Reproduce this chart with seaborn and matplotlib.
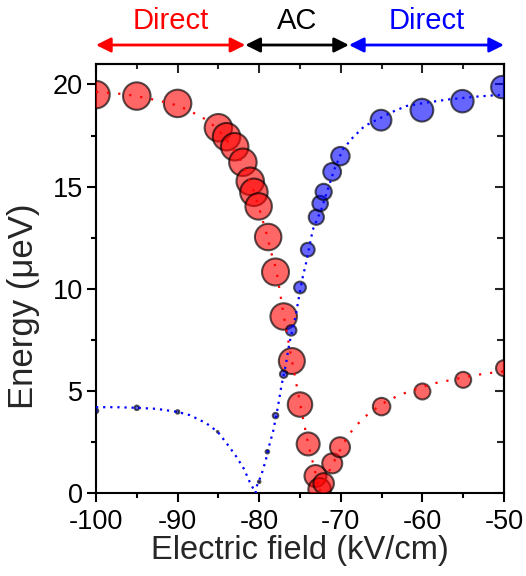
import matplotlib
matplotlib.use("Agg")
import matplotlib.pyplot as plt
from matplotlib.ticker import MultipleLocator
import seaborn as sns
import pandas as pd

# ---------------- data ----------------
red_field = [-100, -95, -90, -85, -84, -83, -82, -81.1, -80.65, -80.07, -78.9, -78, -77, -76, -75,
             -74, -73.1, -72.6, -72.1, -71.05, -70.1, -65, -60, -55, -50]
red_energy = [19.5, 19.43, 19.07, 17.88, 17.44, 16.95, 16.19, 15.26, 14.72, 14.03, 12.53, 10.82, 8.64,
              6.46, 4.33, 2.40, 0.83, 0.18, 0.47, 1.45, 2.24, 4.23, 4.97, 5.54, 6.11]
red_diam = [29, 29, 29, 29, 29, 29, 29, 29, 29, 28, 28, 28.5, 28, 27.5, 26, 24.5, 23.5, 24, 22,
            21.5, 21.5, 19, 17.5, 17.5, 17.5]

blue_field = [-100, -95, -90, -85.1, -80.0, -79.0, -78.0, -77.0, -76.08, -75.0, -74.05, -73.0,
              -72.53, -72.1, -71.06, -70.05, -65.07, -60.06, -55.1, -50.2]
blue_energy = [4.02, 4.17, 3.97, 3.0, 0.55, 2.02, 3.79, 5.82, 7.96, 10.06, 11.91, 13.5, 14.17,
               14.74, 15.72, 16.49, 18.25, 18.74, 19.18, 19.87]
blue_diam = [6, 6, 5, 3, 4, 5, 7, 9, 12, 13.3, 15.3, 16.7, 17, 17.7, 19.3, 20, 22.3, 24.3, 24, 24]

red_fit_field = [-100, -97.07, -95.5, -94.1, -92.6, -91.2, -89.8, -88.3, -86.9, -85.5, -84.4, -83.3,
                 -82.2, -80.9, -79.95, -79.13, -78.4, -77.9, -77, -76, -75, -74, -73.56, -73.2,
                 -72.65, -72.0, -71.06, -69.56, -68.55, -67.2, -65, -64.26, -62.8, -61.4, -59.9,
                 -58.4, -57.0, -55.5, -54.1, -52.7, -51.2, -50]
red_fit_energy = [19.64, 19.54, 19.46, 19.35, 19.23, 19.1, 18.94, 18.66, 18.37, 17.96, 17.5, 16.9,
                  16.24, 15.05, 13.87, 12.73, 11.58, 10.93, 8.7, 6.5, 4.4, 2.4, 1.7, 1.16, 0.05,
                  0.6, 1.37, 2.51, 3.1, 3.69, 4.35, 4.51, 4.8, 5.0, 5.21, 5.38, 5.49, 5.62, 5.73,
                  5.82, 5.9, 5.95]

blue_fit_field = [-100, -97.5, -95, -92.6, -90, -88.5, -86.5, -85.1, -84.0, -82.8, -81.9, -81.17,
                  -80.45, -80.36, -79.74, -79.2, -78.7, -78.3, -77.7, -77.3, -76.7, -76.3, -75.55,
                  -75.15, -74.65, -74.3, -73.43, -72.4, -71.6, -70.8, -69.77, -68.55, -67.1,
                  -63.65, -62.0, -59.2, -56.7, -53.5, -50]
blue_fit_energy = [4.2, 4.2, 4.17, 4.12, 3.97, 3.81, 3.42, 3.0, 2.44, 1.78, 1.2, 0.55, 0.0, 0.28,
                   0.88, 1.6, 2.44, 3.0, 4.23, 5.2, 6.36, 7.34, 8.64, 9.54, 10.6, 11.18, 12.89,
                   13.87, 14.85, 15.83, 16.81, 17.39, 17.96, 18.66, 18.94, 19.13, 19.27, 19.4, 19.5]

region_labels = ["Direct", "AC", "Direct"]
region_bounds = [(-100, -81.7), (-81.7, -69.0), (-69.0, -50)]
region_colors = ["#ff0000", "#000000", "#0000ff"]

xticks = [-100, -90, -80, -70, -60, -50]
yticks = [0, 5, 10, 15, 20]

# ---------------- style ----------------
sns.set_theme(style="ticks")
plt.rcParams["font.family"] = ["Liberation Sans", "DejaVu Sans"]
plt.rcParams["axes.unicode_minus"] = False

fig = plt.figure(figsize=(5.26, 5.76), dpi=100)
ax = fig.add_axes([96 / 526, 1 - 493 / 576, (504 - 96) / 526, (493 - 64) / 576])

def area(d):
    return [((v - 1.5) * 0.72) ** 2 for v in d]

red_df = pd.DataFrame({"field": red_field, "energy": red_energy})
blue_df = pd.DataFrame({"field": blue_field, "energy": blue_energy})

sns.scatterplot(data=red_df, x="field", y="energy", s=area(red_diam), ax=ax,
                color=(1, 0, 0, 0.6), edgecolor=(0, 0, 0, 0.65), linewidth=1.5, zorder=3,
                legend=False)
sns.scatterplot(data=blue_df, x="field", y="energy", s=area(blue_diam), ax=ax,
                color=(0, 0, 1, 0.6), edgecolor=(0, 0, 0, 0.65), linewidth=1.5, zorder=4,
                legend=False)

rf = pd.DataFrame({"field": red_fit_field, "energy": red_fit_energy})
bf = pd.DataFrame({"field": blue_fit_field, "energy": blue_fit_energy})
sns.lineplot(data=rf, x="field", y="energy", sort=False, estimator=None, ax=ax,
             color="#ff0000", linewidth=1.6, linestyle=(0, (1, 4)), zorder=5)
sns.lineplot(data=bf, x="field", y="energy", sort=False, estimator=None, ax=ax,
             color="#0000ff", linewidth=1.6, linestyle=(0, (1, 2.2)), zorder=6)

ax.set_xlim(-100, -50)
ax.set_ylim(0, 21)
ax.set_xticks(xticks)
ax.set_yticks(yticks)
ax.xaxis.set_minor_locator(MultipleLocator(5))
ax.yaxis.set_minor_locator(MultipleLocator(2.5))
ax.tick_params(axis="both", which="major", direction="out", length=6.5, width=1.5,
               labelsize=19.5, color="black", labelcolor="black")
ax.tick_params(axis="x", which="major", pad=5)
ax.tick_params(axis="y", which="major", pad=3)
ax.tick_params(axis="both", which="minor", direction="out", length=3.8, width=1.5, color="black")
for s in ax.spines.values():
    s.set_visible(True)
    s.set_linewidth(1.5)
    s.set_color("black")

top = ax.secondary_xaxis("top")
top.set_xticks(xticks)
top.xaxis.set_minor_locator(MultipleLocator(5))
top.tick_params(which="major", direction="in", length=6.5, width=1.5, labeltop=False)
top.tick_params(which="minor", direction="in", length=3.8, width=1.5)
top.spines["top"].set_linewidth(1.5)
right = ax.secondary_yaxis("right")
right.set_yticks(yticks)
right.yaxis.set_minor_locator(MultipleLocator(2.5))
right.tick_params(which="major", direction="in", length=6.5, width=1.5, labelright=False)
right.tick_params(which="minor", direction="in", length=5, width=1.5)
right.spines["right"].set_linewidth(1.5)

ax.set_xlabel("Electric field (kV/cm)", fontsize=23.5, labelpad=0)
ax.set_ylabel("Energy (\u03bceV)", fontsize=25)
ax.yaxis.set_label_coords(-0.137, 0.436)

for lab, (x0, x1), col in zip(region_labels, region_bounds, region_colors):
    ax.annotate("", xy=(x0, 21.93), xytext=(x1, 21.93), xycoords="data",
                annotation_clip=False,
                arrowprops=dict(arrowstyle="<|-|>", color=col, lw=2,
                                mutation_scale=22, shrinkA=0, shrinkB=0))
    ax.text((x0 + x1) / 2, 23.1, lab, color=col, fontsize=21, ha="center", va="center",
            clip_on=False)

fig.savefig("out.png", dpi=100)
